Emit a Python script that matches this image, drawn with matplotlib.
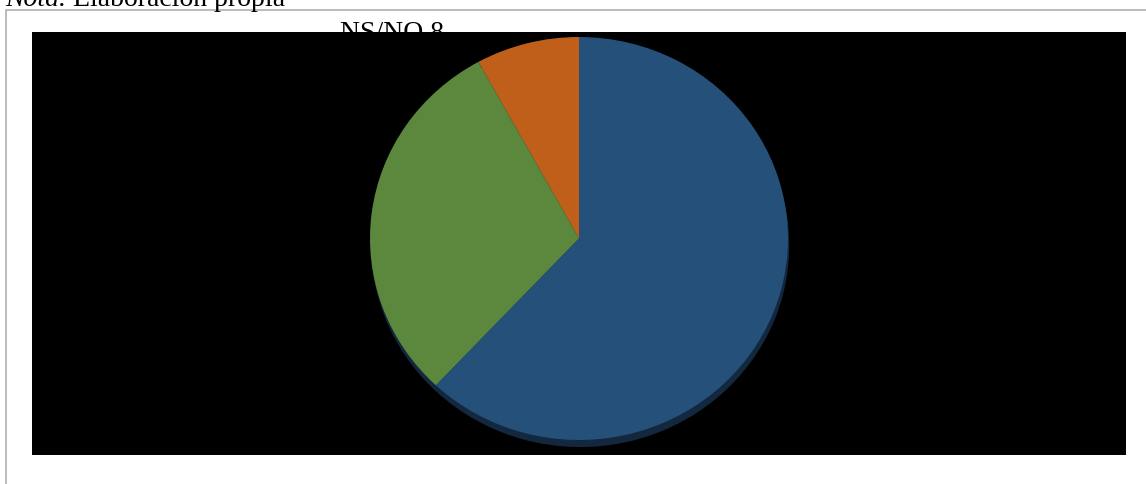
import matplotlib.pyplot as plt
from matplotlib.patches import Rectangle
from matplotlib.text import Annotation

# Data
labels = ['NS/NO', 'No', 'Sí']
values = [8, 30, 62]
colors = ['#c05f1a', '#5b883c', '#245079']
shadow_color = '#13273e'

W, H = 1146, 485
fig = plt.figure(figsize=(W / 100, H / 100), dpi=100)
fig.patch.set_facecolor('white')


def px(x0, y0, x1, y1):
    # pixel box (top-left origin) -> figure rect
    return [x0 / W, 1 - y1 / H, (x1 - x0) / W, (y1 - y0) / H]


# Gray frame (right and bottom edges fall outside the picture)
frame = Rectangle((5.5 / W, -0.1), 1.2, 1 - 10.5 / H + 0.1, transform=fig.transFigure,
                  fill=False, edgecolor='#a8a8a8', linewidth=1.1, zorder=0)
fig.add_artist(frame)

# Caption above the frame, partly cut off
note = fig.text(5 / W, 1 - 6 / H, 'Nota.', fontsize=20, family='Liberation Serif',
                style='italic', va='baseline', ha='left')
ann = Annotation(' Elaboración propia', xy=(1, 0), xycoords=note, va='bottom', ha='left',
                 fontsize=20, family='Liberation Serif')
fig.add_artist(ann)

# Data label that ends up hidden behind the black plot area
fig.text(340 / W, 1 - 40 / H, '%s %d' % (labels[0], values[0]), fontsize=20,
         family='Liberation Serif', va='baseline', ha='left', zorder=0.5)

# Black plot area
bg = fig.add_axes(px(32, 33, 1126, 456), zorder=1)
bg.set_facecolor('black')
bg.set_xticks([])
bg.set_yticks([])
for s in bg.spines.values():
    s.set_visible(False)

# Pie
ax = fig.add_axes(px(370, 38, 788, 441), zorder=2)
ax.patch.set_visible(False)
ax.pie(values, radius=1.0, colors=[shadow_color] * len(values), startangle=90,
       center=(0.006, -0.035), wedgeprops=dict(linewidth=0))
ax.pie(values, radius=1.0, colors=colors, startangle=90, counterclock=True,
       wedgeprops=dict(linewidth=0))
ax.set_aspect('auto')
ax.set_xlim(-1, 1)
ax.set_ylim(-1, 1)
ax.axis('off')

fig.savefig('out.png', dpi=100)
